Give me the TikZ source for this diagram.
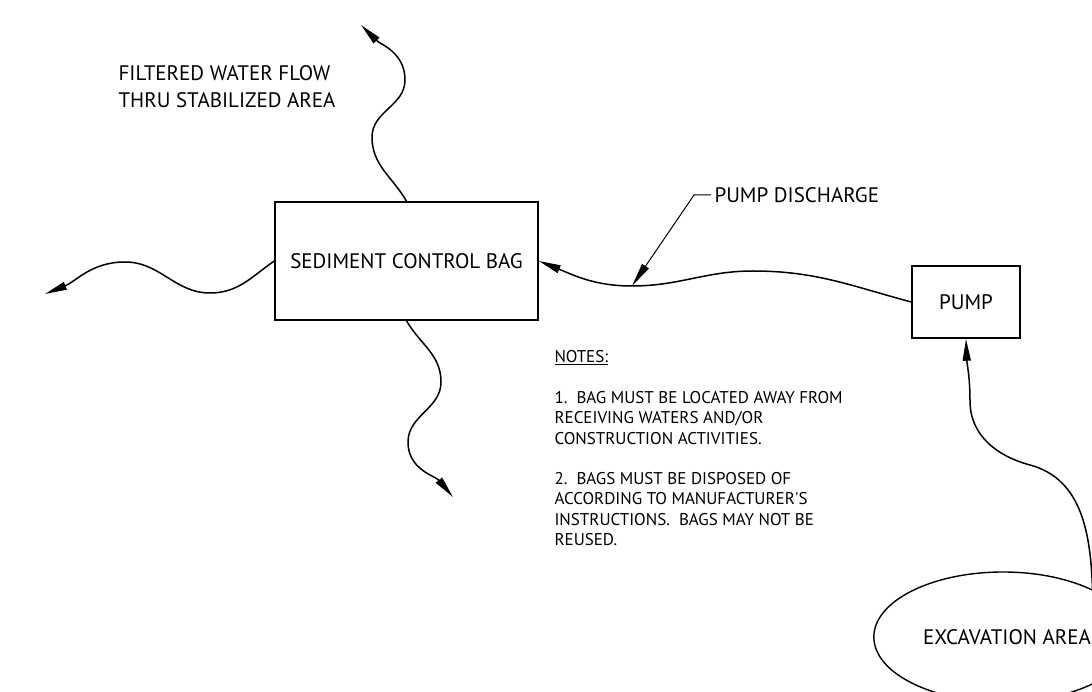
\documentclass[tikz,border=0pt]{standalone}
\usepackage{fontspec}
\setmainfont{PT Sans}
\usepackage{tikz}
\usetikzlibrary{arrows.meta,shapes.geometric}
\tikzset{
  box/.style={
    draw=black,rectangle,line width=1.6pt,font=\fontsize{21}{26}\selectfont,
  },
  flow/.style={
    line width=1.5pt,-{Triangle[length=22pt,width=8pt]},
  },
  leader/.style={
    line width=1pt,-{Triangle[length=24pt,width=8pt]},
  },
}

\begin{document}
\begin{tikzpicture}[x=1pt,y=1pt,font=\fontsize{21}{27}\selectfont]
			\useasboundingbox (0,0) rectangle (1092,691);
			\clip (0,0) rectangle (1092,691);
			\node[box,minimum width=263pt,minimum height=118pt] (bag) at (406.5,430) {SEDIMENT CONTROL BAG};
			\node[box,minimum width=108pt,minimum height=72pt] (pump) at (966,389) {PUMP};
			\node[draw,ellipse,line width=1.4pt,minimum width=256pt,minimum height=130pt] (exc) at (1003,54) {\hspace*{8pt}EXCAVATION AREA};
			\node[anchor=west,align=left] (filtered) at (115,604) {FILTERED WATER FLOW\\THRU STABILIZED AREA};
			\node[anchor=west] (dlabel) at (711,496) {PUMP DISCHARGE};
			\node[anchor=base west,align=left,font=\fontsize{17}{20.3}\selectfont] (notes) at (551,145.5)
				{\underline{NOTES:}\\[20.3pt]
				1.\ \ BAG MUST BE LOCATED AWAY FROM\\
				RECEIVING WATERS AND/OR\\
				CONSTRUCTION ACTIVITIES.\\[20.3pt]
				2.\ \ BAGS MUST BE DISPOSED OF\\
				ACCORDING TO MANUFACTURER\textquotesingle S\\
				INSTRUCTIONS.\ \ BAGS MAY NOT BE\\
				REUSED.};
			\coordinate (tipL) at (45,397);
			\coordinate (tipT) at (361,666);
			\coordinate (tipB) at (453,194);
			\coordinate (dpt) at (632,405);
			% outflow from the bag
			\draw [flow] (bag.west) to[out=215,in=0] (210,398) to[out=180,in=0] (125,429) to[out=180,in=22] (tipL);
			\draw [flow] (bag.north) to[out=120,in=270] (372,554) to[out=90,in=270] (405,611) to[out=90,in=-45] (tipT);
			\draw [flow] (bag.south) to[out=-60,in=90] (441,309) to[out=-90,in=90] (408,249) to[out=-90,in=130] (tipB);
			% pump lines
			\draw [flow] (pump.west) to[out=165,in=0] (753,420) to[out=180,in=0] (dpt) to[out=180,in=-22] (bag.east);
			\draw [flow] (exc.28) to[out=92,in=-15] (1030,226) to[out=165,in=-90] (970,290) to[out=90,in=-88] (pump.south);
			\draw [leader] (dlabel.west) -- ++(-17,0) -- (dpt);
		\end{tikzpicture}
\end{document}
